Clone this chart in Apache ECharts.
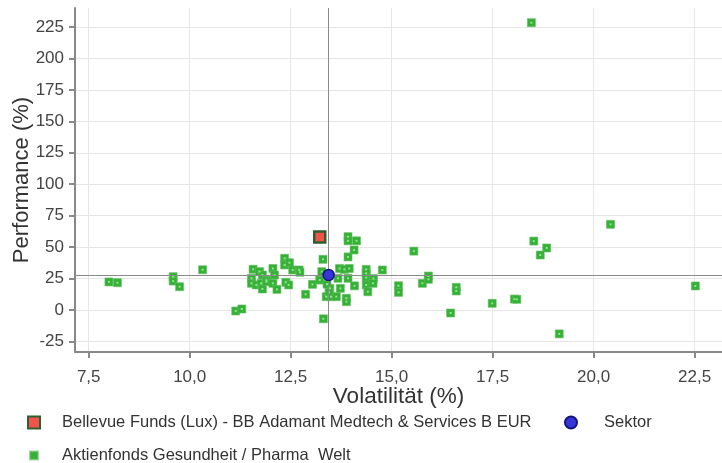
<!DOCTYPE html>
<html>
<head>
<meta charset="utf-8">
<script src="https://cdn.jsdelivr.net/npm/echarts@6/dist/echarts.min.js"></script>
<style>
html,body{margin:0;padding:0;background:#fff;}
#c{width:722px;height:463px;}
</style>
</head>
<body>
<div id="c"></div>
<script>
// ---- data ----
const fundName = 'Bellevue Funds (Lux) - BB Adamant Medtech & Services B EUR';
const sectorName = 'Sektor';
const peerName = 'Aktienfonds Gesundheit / Pharma  Welt';

const fundPoint = [13.22, 58.0];
const sectorPoint = [13.44, 27.8];

const peerVol = [
  8.0, 8.21, 9.59, 9.59, 9.75, 10.32, 11.14, 11.29,
  11.53, 11.53, 11.57, 11.65, 11.73, 11.77, 11.8, 11.8, 11.9, 11.9, 12.06, 12.06, 12.1, 12.16,
  12.35, 12.35, 12.47, 12.38, 12.45, 12.55, 12.71, 12.73, 12.87, 13.04, 13.22, 13.27, 13.3, 13.31,
  13.38, 13.5, 13.63, 13.47, 13.73, 13.67, 13.92, 13.71, 13.83, 13.95, 13.92, 14.07, 13.92, 13.92, 14.13,
  13.88, 13.88, 14.08, 13.4, 13.45,
  14.37, 14.37, 14.37, 14.55, 14.37, 14.54, 14.41, 14.77,
  15.17, 15.17, 15.55, 15.76, 15.91, 15.91, 16.6, 16.6, 16.46, 17.49, 18.04, 18.1, 19.15, 22.52,
  18.46, 20.42, 18.52, 18.84, 18.68
];
const peerPerf = [
  22.3, 21.7, 26.5, 23.0, 18.5, 32.0, -0.8, 0.8,
  25.2, 21.2, 32.4, 19.9, 30.5, 21.2, 27.8, 16.7, 23.8, 22.5, 33.0, 21.2, 27.8, 16.4,
  41.1, 35.8, 37.6, 22.0, 19.9, 31.8, 31.8, 30.0, 12.5, 20.4, 23.8, 30.5, 40.3, -7.0,
  10.6, 10.6, 10.6, 17.2, 17.2, 25.2, 25.2, 33.0, 32.3, 33.0, 42.2, 47.7, 58.3, 55.0, 55.0,
  9.3, 6.6, 19.2, 20.5, 14.0,
  32.3, 29.2, 25.7, 25.0, 19.9, 21.2, 14.5, 31.8,
  19.3, 14.0, 46.8, 21.2, 27.0, 24.4, 18.0, 15.1, -2.4, 5.3, 8.7, 8.5, -19.0, 19.1,
  228.4, 68.1, 54.8, 49.3, 43.7
];

const xTicks = [7.5, 10, 12.5, 15, 17.5, 20, 22.5];
const yTicks = [-25, 0, 25, 50, 75, 100, 125, 150, 175, 200, 225];

const xMin = 7.16, xMax = 23.18;
const yMin = -33.4, yMax = 240.1;

// ---- chart ----
const peerData = peerVol.map((v, i) => [v, peerPerf[i]]);
const FONT = '"Liberation Sans", Arial, sans-serif';

const chart = echarts.init(document.getElementById('c'), null, {renderer: 'canvas'});
function legendText(pad) {
  return {fontFamily: FONT, fontSize: 16.5, color: '#333', padding: [0, 0, 0, pad]};
}
chart.setOption({
  animation: false,
  backgroundColor: '#fff',
  grid: {left: 75, right: 0, top: 8, bottom: 111, containLabel: false, outerBoundsMode: 'none'},
  legend: [
    {data: [fundName], left: 22, top: 409, itemWidth: 12, itemHeight: 12, selectedMode: false,
     textStyle: legendText(17)},
    {data: [sectorName], left: 559, top: 409, itemWidth: 12, itemHeight: 12, selectedMode: false,
     textStyle: legendText(22)},
    {data: [peerName], left: 24, top: 442, itemWidth: 8, itemHeight: 8, selectedMode: false,
     textStyle: legendText(19)}
  ],
  xAxis: {
    type: 'value', min: xMin, max: xMax,
    name: 'Volatilität (%)', nameLocation: 'middle', nameGap: 33, nameMoveOverlap: false,
    nameTextStyle: {fontFamily: FONT, fontSize: 22.5, color: '#333'},
    axisLine: {show: true, onZero: false, lineStyle: {color: '#888', width: 2}},
    axisTick: {show: true, length: 6, lineStyle: {color: '#888', width: 2}, customValues: xTicks},
    axisLabel: {customValues: xTicks, margin: 17, fontFamily: FONT, fontSize: 17, color: '#444',
      formatter: v => v.toFixed(1).replace('.', ',')},
    splitLine: {show: true, lineStyle: {color: '#e6e6e6', width: 1}}
  },
  yAxis: {
    type: 'value', min: yMin, max: yMax,
    name: 'Performance (%)', nameLocation: 'middle', nameGap: 42, nameMoveOverlap: false,
    nameTextStyle: {fontFamily: FONT, fontSize: 22, color: '#333'},
    axisLine: {show: true, onZero: false, lineStyle: {color: '#888', width: 2}},
    axisTick: {show: true, length: 6, lineStyle: {color: '#888', width: 2}, customValues: yTicks},
    axisLabel: {customValues: yTicks, margin: 11, fontFamily: FONT, fontSize: 17, color: '#444',
      formatter: v => String(v)},
    splitLine: {show: true, lineStyle: {color: '#e6e6e6', width: 1}}
  },
  series: [
    {
      name: peerName, type: 'scatter', symbol: 'rect', symbolSize: 8,
      itemStyle: {color: '#36b036', borderColor: 'rgba(100,190,100,0.6)', borderWidth: 1, opacity: 1},
      data: peerData, z: 2,
      markLine: {
        silent: true, symbol: ['none', 'none'], label: {show: false},
        lineStyle: {color: '#8a8a8a', width: 1, type: 'solid'},
        data: [{xAxis: sectorPoint[0]}, {yAxis: sectorPoint[1]}]
      }
    },
    {
      name: 'peerDot', type: 'scatter', symbol: 'rect', symbolSize: 2,
      itemStyle: {color: '#86ea86', opacity: 1}, data: peerData, z: 3, silent: true
    },
    {
      name: fundName, type: 'scatter', symbol: 'rect', symbolSize: 11,
      itemStyle: {color: '#f2544c', borderColor: '#2f5f2f', borderWidth: 2.5, opacity: 1},
      data: [fundPoint], z: 5
    },
    {
      name: sectorName, type: 'scatter', symbol: 'circle', symbolSize: 11,
      itemStyle: {color: '#3535d8', borderColor: '#141480', borderWidth: 1.5, opacity: 1},
      data: [sectorPoint], z: 5
    }
  ]
});
</script>
</body>
</html>
